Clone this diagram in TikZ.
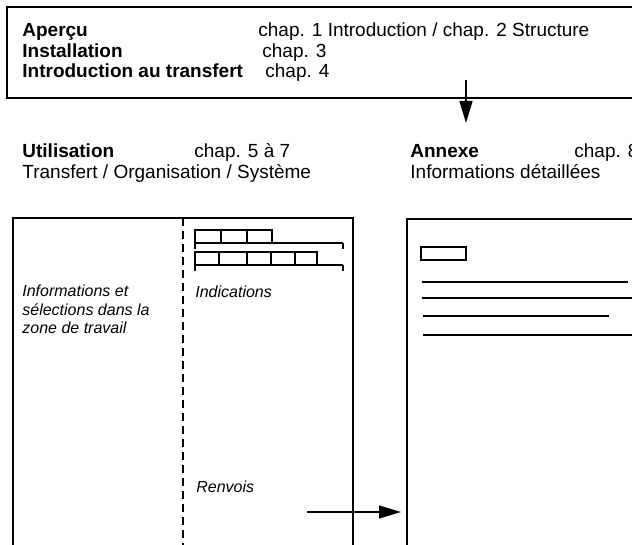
\documentclass[tikz,border=0pt]{standalone}
\usepackage{fontspec}
\setmainfont{Liberation Sans}
\usetikzlibrary{arrows.meta, positioning}
\tikzstyle{arrow} = [line width=0.6pt, -{Triangle[length=11pt, width=6.5pt]}]
\tikzset{
  frame/.style={draw, line width=0.6pt},
  heading/.style={anchor=base west, inner sep=0pt, font=\fontsize{9.5}{11.4}\selectfont\bfseries},
  chapter/.style={anchor=base west, inner sep=0pt, font=\fontsize{9.5}{11.4}\selectfont},
  hint/.style={anchor=base west, inner sep=0pt, align=left, font=\fontsize{8}{9.25}\selectfont\itshape},
  field/.style={draw, line width=0.6pt},
  text line/.style={line width=0.6pt}
}

\begin{document}
\begin{tikzpicture}[x=0.5pt, y=-0.5pt]
  \useasboundingbox (0,0) rectangle (632,545);
  \clip (0,0) rectangle (632,545);

  % Top box
  \draw[frame, line width=0.9pt] (7,7) rectangle (660,98);
  \node[heading] (apercu) at (22,37) {Aperçu};
  \node[heading] (install) at (22,57.5) {Installation};
  \node[heading] (intro) at (22,78) {Introduction au transfert};
  \node[chapter] (chapA) at (258,37) {chap. 1 Introduction / chap. 2 Structure};
  \node[chapter] (chapB) at (262,57.5) {chap. 3};
  \node[chapter] (chapC) at (265,78) {chap. 4};

  % Headings of the two pages
  \node[heading] (usage) at (22,158) {Utilisation};
  \node[chapter] (usagechap) at (194,158) {chap. 5 à 7};
  \node[chapter] (usagesub) at (22,179) {Transfert / Organisation / Système};
  \node[heading] (annex) at (410,158) {Annexe};
  \node[chapter] (annexchap) at (574,158) {chap. 8};
  \node[chapter] (annexsub) at (410,179) {Informations détaillées};

  % Arrow to the appendix
  \coordinate (down start) at (466,80);
  \coordinate (down end) at (466,123);
  \draw[arrow] (down start) -- (down end);

  % Left page
  \draw[frame] (13,218) rectangle (353,560);
  \draw[line width=0.6pt, dash pattern=on 4pt off 2.5pt] (183,218) -- (183,560);

  % Fields above the work area
  \foreach \a/\b in {195/221, 221/247, 247/272}
    \draw[field] (\a,230) rectangle (\b,243);
  \draw[text line] (195,243) -- (343,243);
  \draw[text line] (195,243) -- (195,249);
  \draw[text line] (343,243) -- (343,249);
  \foreach \a/\b in {195/219, 219/247, 247/271, 271/295, 295/317}
    \draw[field] (\a,252) rectangle (\b,265);
  \draw[text line] (195,265) -- (343,265);
  \draw[text line] (195,265) -- (195,271);
  \draw[text line] (343,265) -- (343,271);

  % base of a multi-line node is its last line
  \node[hint] (workarea) at (22,334) {Informations et\\sélections dans la\\zone de travail};
  \node[hint] (indic) at (195,298) {Indications};
  \node[hint] (refs) at (196,492) {Renvois};

  % Right page
  \draw[frame] (407,219) rectangle (660,560);
  \draw[field] (421,247) rectangle (466,260);
  \draw[text line] (422,282) -- (628,282);
  \draw[text line] (422,298) -- (640,298);
  \draw[text line] (423,316) -- (609,316);
  \draw[text line] (423,335) -- (640,335);

  % Reference arrow
  \coordinate (ref start) at (307,512);
  \coordinate (ref end) at (401,512);
  \draw[arrow] (ref start) -- (ref end);
\end{tikzpicture}
\end{document}
